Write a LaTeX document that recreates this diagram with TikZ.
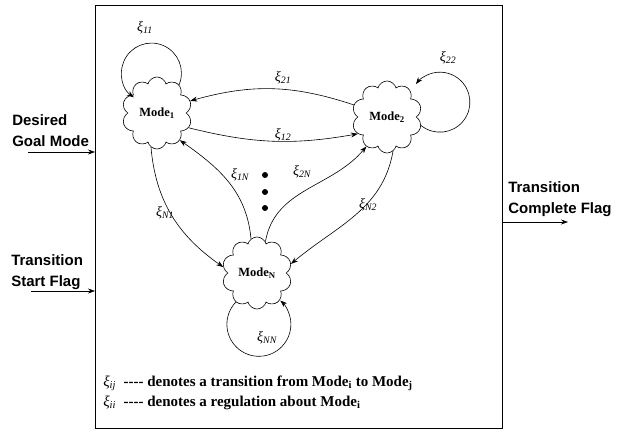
\documentclass[tikz,border=0pt]{standalone}
\usepackage{fontspec}
\setmainfont{Liberation Serif}
\setsansfont{Liberation Sans}
\usetikzlibrary{shapes.symbols,arrows.meta}
\newcommand{\xil}[1]{{\itshape ξ\textsubscript{#1}}}
\newcommand{\modelab}[1]{\textbf{Mode\textsubscript{#1}}}

\begin{document}
\begin{tikzpicture}[x=1pt,y=1pt,
    mode/.style={draw, cloud, cloud puffs=10, aspect=1, minimum width=70pt, minimum height=72pt, inner sep=0pt, font=\fontsize{12.5}{14}\selectfont},
    xlab/.style={font=\fontsize{14}{16}\selectfont, inner sep=1pt},
    leglab/.style={anchor=west, inner sep=1pt, font=\fontsize{15}{17}\selectfont},
    iolab/.style={align=left, anchor=west, inner sep=0pt, font=\fontsize{15}{21}\selectfont\sffamily\bfseries},
    >={Stealth[length=7pt,width=5pt]}, semithick]
\useasboundingbox (0,0) rectangle (620,432);
\node[draw, thick, anchor=south west, inner sep=0pt, minimum width=407pt, minimum height=423pt] (frame) at (95,3) {};

% modes
\node[mode] (m1) at (157,319) {\modelab{1}};
\node[mode] (m2) at (387,315) {\modelab{2}};
\node[mode] (mN) at (257,159) {\modelab{N}};

% inputs and output
\node[iolab] (goal) at (12,301) {Desired\\Goal Mode};
\node[iolab] (start) at (11,160) {Transition\\Start Flag};
\node[iolab] (done) at (508,233) {Transition\\Complete Flag};
\coordinate (goalin) at (28,280);
\coordinate (startin) at (31,141);
\coordinate (doneout) at (568,210);
\draw[->] (goalin) -- (goalin -| frame.west);
\draw[->] (startin) -- (startin -| frame.west);
\draw[->] (doneout -| frame.east) -- (doneout);

% transitions
\draw[->] (m2.160) to[bend right=17] (m1.20);
\draw[->] (m1.-25) to[bend right=12] (m2.-150);
\draw[->] (mN.100) to[out=95, in=-35] (m1.-50);
\draw[->] (mN.75) to[out=80, in=-130] (m2.-125);
\draw[->] (m1.-100) to[out=-85, in=145] (mN.170);
\draw[->] (m2.-80) to[out=-100, in=40] (mN.15);

% regulations
\draw[->] (m1.52) arc[start angle=-23, end angle=234, radius=30];
\draw[->] (m2.-14) arc[start angle=-129, end angle=143, radius=30];
\draw[->] (mN.-126) arc[start angle=136, end angle=408, radius=32];

\foreach \y in {257,240,224}
    \fill (265,\y) circle (3pt);

% labels
\node[xlab] (l11) at (145,404) {\xil{11}};
\node[xlab] (l22) at (448,374) {\xil{22}};
\node[xlab] (lNN) at (267,94) {\xil{NN}};
\node[xlab] (l21) at (283,354) {\xil{21}};
\node[xlab] (l12) at (283,297) {\xil{12}};
\node[xlab] (l1N) at (240,257) {\xil{1N}};
\node[xlab] (l2N) at (302,260) {\xil{2N}};
\node[xlab] (lN1) at (165,219) {\xil{N1}};
\node[xlab] (lN2) at (368,227) {\xil{N2}};

% legend
\node[leglab] (legij) at (102,49) {\xil{ij}\ \ \textbf{-{}-{}-{}- denotes a transition from \modelab{i} to \modelab{j}}};
\node[leglab] (legii) at (102,29) {\xil{ii}\ \ \textbf{-{}-{}-{}- denotes a regulation about \modelab{i}}};
\end{tikzpicture}
\end{document}
